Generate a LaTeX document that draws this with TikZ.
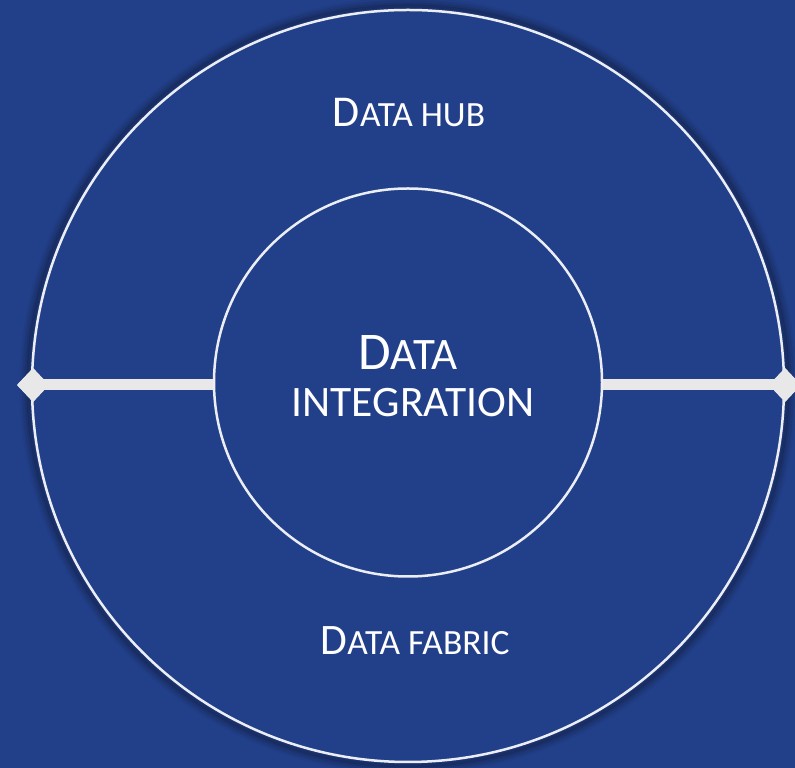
\documentclass[tikz,border=0pt]{standalone}
\usepackage{fontspec}
\setmainfont{Carlito}
\usetikzlibrary{shapes.geometric}
\definecolor{bgblue}{RGB}{34,64,138}
\definecolor{ringwhite}{RGB}{236,238,245}
\definecolor{bargray}{RGB}{232,232,232}
\tikzset{
  ring/.style={circle, draw=ringwhite, line width=2.5pt, inner sep=0pt},
  gem/.style={diamond, fill=bargray, inner sep=0pt, minimum width=32pt, minimum height=34pt},
  bar/.style={draw=bargray, line width=11pt},
  lbl/.style={text=white, align=center, inner sep=0pt}
}
\begin{document}
\begin{tikzpicture}[x=1pt,y=1pt]
\useasboundingbox (0,0) rectangle (795,768);
\fill[bgblue] (0,0) rectangle (795,768);
% soft shadow around outer ring
\foreach \r/\o in {386/0.05,383.5/0.08,381/0.12,379/0.16}{
  \draw[black, opacity=\o, line width=5pt] (408,382) circle (\r);
}
\node[ring, minimum size=752pt] (outer) at (408,382) {};
\node[gem] (ldia) at (33,383) {};
\node[gem] (rdia) at (785,383) {};
\draw[bar] (ldia.center) -- (rdia.center);
\node[gem] at (ldia) {};
\node[gem] at (rdia) {};
\node[ring, fill=bgblue, minimum size=388pt] (inner) at (408,385.5) {};
\node[lbl, anchor=base] (hub) at (409,641) {{\fontsize{44}{44}\selectfont D}{\fontsize{35.5}{35.5}\selectfont ATA HUB}};
\node[lbl, anchor=base] (integ1) at (408,398) {{\fontsize{53}{53}\selectfont D}{\fontsize{45}{45}\selectfont ATA}};
\node[lbl, anchor=base] (integ2) at (413,351) {{\fontsize{43.5}{43.5}\selectfont INTEGRATION}};
\node[lbl, anchor=base] (fabric) at (415,113) {{\fontsize{43.5}{43.5}\selectfont D}{\fontsize{35.5}{35.5}\selectfont ATA FABRIC}};
\end{tikzpicture}
\end{document}
